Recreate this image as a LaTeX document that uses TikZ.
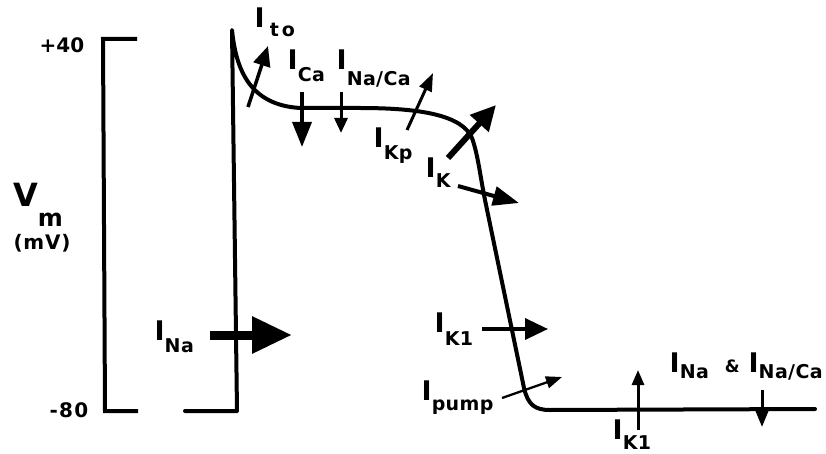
\documentclass[tikz,border=0pt]{standalone}
\usepackage{fontspec}
\setmainfont{DejaVu Sans}
\usetikzlibrary{arrows.meta}
\newcommand\ionlab[3][0pt]{{\fontsize{27}{27}\selectfont\bfseries I}\kern#1\raisebox{-#3pt}{\fontsize{19}{19}\selectfont\bfseries\addfontfeature{LetterSpace=2}#2}}
\tikzset{
  trace/.style={line width=4pt, line cap=round, line join=round},
  lab/.style={anchor=base west, inner sep=0pt},
  hd/.style 2 args={-{Triangle[length=#1pt,width=#2pt]}},
}
\begin{document}
\begin{tikzpicture}[x=1pt,y=-1pt]
\useasboundingbox (0,0) rectangle (826,454);
\fill[white] (0,0) rectangle (826,454);

% axis bracket
\draw[trace, line cap=butt, line join=miter] (137,39) -- (103,39) -- (105,411) -- (138,411);
\node[inner sep=0pt] (p40) at (62,45) {\fontsize{20}{20}\selectfont\bfseries +40};
\node[inner sep=0pt] (m80) at (69,410) {\fontsize{20}{20}\selectfont\bfseries\addfontfeature{LetterSpace=6}-80};
\node[lab] (vm) at (13,207) {\fontsize{32}{32}\selectfont\bfseries V\raisebox{-20pt}{\fontsize{24}{24}\selectfont m}};
\node[inner sep=0pt] (mv) at (42,243) {\fontsize{20}{20}\selectfont\bfseries\addfontfeature{LetterSpace=4}(mV)};

% action potential
\draw[trace] (185,411) -- (237,411) -- (232,30)
  .. controls (236,70) and (250,105) .. (300,108) -- (360,108)
  .. controls (420,108) and (462,115) .. (472,138)
  .. controls (478,155) and (480,175) .. (485,200) -- (524,388)
  .. controls (528,405) and (535,410) .. (550,410) -- (815,409);

% arrow end points
\coordinate (naT) at (210,335); \coordinate (naH) at (292,335);
\coordinate (toT) at (248,107); \coordinate (toH) at (268,46);
\coordinate (caT) at (302,92);  \coordinate (caH) at (302,147);
\coordinate (ncT) at (341,92);  \coordinate (ncH) at (341,133);
\coordinate (kpT) at (407,130); \coordinate (kpH) at (433,73);
\coordinate (kT) at (448,158);  \coordinate (kH) at (496,105);
\coordinate (k2T) at (458,186); \coordinate (k2H) at (519,203);
\coordinate (k1T) at (482,329); \coordinate (k1H) at (548,329);
\coordinate (puT) at (502,398); \coordinate (puH) at (562,377);
\coordinate (k1bT) at (638,430); \coordinate (k1bH) at (638,370);
\coordinate (dnT) at (762,390); \coordinate (dnH) at (762,427);

% current arrows
\draw[line width=9pt, hd={40}{35}] (naT) -- (naH);
\draw[line width=3.5pt, hd={20}{17}] (toT) -- (toH);
\draw[line width=3.5pt, hd={25}{19}] (caT) -- (caH);
\draw[line width=3pt, hd={15}{13}] (ncT) -- (ncH);
\draw[line width=3pt, hd={18}{13}] (kpT) -- (kpH);
\draw[line width=6pt, hd={25}{24}] (kT) -- (kH);
\draw[line width=4pt, hd={26}{19}] (k2T) -- (k2H);
\draw[line width=3.5pt, hd={23}{21}] (k1T) -- (k1H);
\draw[line width=2.3pt, hd={16}{12}] (puT) -- (puH);
\draw[line width=3pt, hd={15}{12}] (k1bT) -- (k1bH);
\draw[line width=3pt, hd={17}{13}] (dnT) -- (dnH);

% labels
\node[lab] (lto) at (254.5,28) {\ionlab[5pt]{t\,o}{9}};
\node[lab] (lca) at (287.5,70) {\ionlab{Ca}{12}};
\node[lab] (lnc) at (336.5,70) {\ionlab{Na/Ca}{16}};
\node[lab] (lkp) at (373.5,148) {\ionlab{Kp}{12}};
\node[lab] (lk) at (425.5,178) {\ionlab{K}{10}};
\node[lab] (lk1) at (434.5,332) {\ionlab{K1}{13}};
\node[lab] (lpu) at (421.5,400) {\ionlab{pump}{10}};
\node[lab] (lna) at (154.5,340) {\ionlab{Na}{12}};
\node[lab] (lk1b) at (612.5,439) {\ionlab{K1}{10}};
\node[lab] (lnanc) at (669.5,372) {\ionlab{Na}{6}\hspace{16pt}{\fontsize{17}{17}\selectfont\bfseries\&}\hspace{9pt}\ionlab{Na/Ca}{6}};
\end{tikzpicture}
\end{document}
